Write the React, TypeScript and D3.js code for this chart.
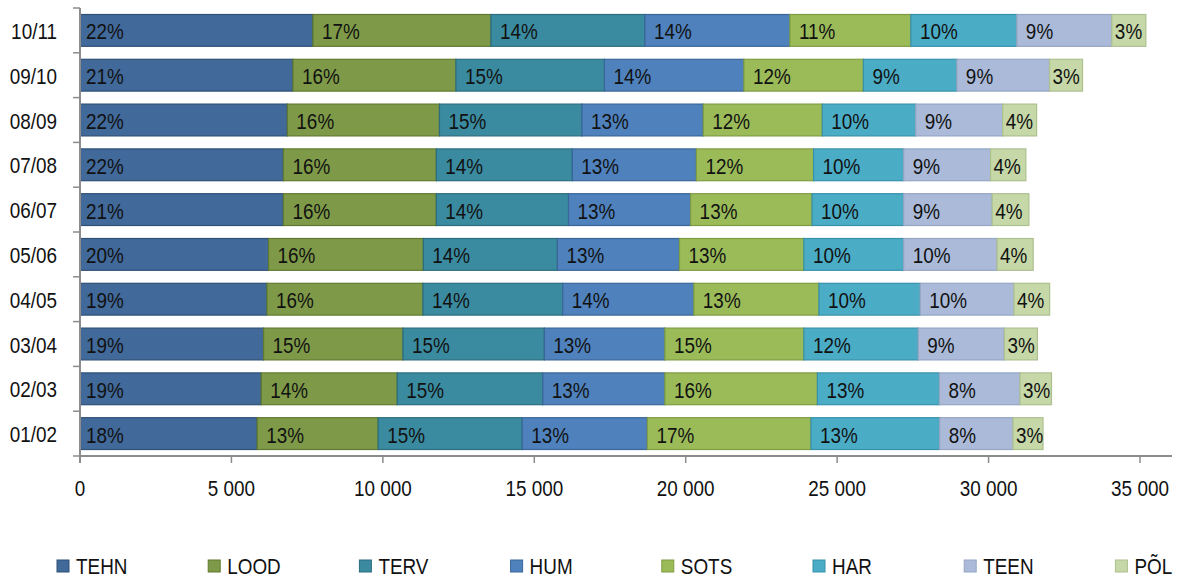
import React from "react";
import * as d3 from "d3";

const categories = ["10/11", "09/10", "08/09", "07/08", "06/07", "05/06", "04/05", "03/04", "02/03", "01/02"];
const seriesNames = ["TEHN", "LOOD", "TERV", "HUM", "SOTS", "HAR", "TEEN", "PÕL"];

const TEHN = [7692, 7032, 6847, 6718, 6718, 6226, 6174, 6061, 5985, 5850];
const LOOD = [5877, 5381, 5022, 5048, 5048, 5111, 5150, 4603, 4490, 3995];
const TERV = [5084, 4903, 4704, 4490, 4365, 4427, 4615, 4668, 4807, 4757];
const HUM = [4787, 4605, 4008, 4097, 4031, 4031, 4330, 3981, 4031, 4134];
const SOTS = [3995, 3946, 3930, 3869, 4011, 4107, 4130, 4589, 5035, 5401];
const HAR = [3499, 3086, 3083, 2975, 3024, 3295, 3341, 3774, 4030, 4250];
const TEEN = [3137, 3061, 2872, 2869, 2922, 3084, 3097, 2846, 2660, 2420];
const POL = [1122, 1089, 1120, 1165, 1212, 1192, 1179, 1090, 1040, 991];

const xTicks = [0, 5000, 10000, 15000, 20000, 25000, 30000, 35000];

const seriesValues = [TEHN, LOOD, TERV, HUM, SOTS, HAR, TEEN, POL];
const fills = ["#41699A", "#7E9A48", "#3B8BA0", "#4F81BD", "#9BBB59", "#4BACC6", "#AABAD8", "#C6D8A8"];
const strokes = ["#2F5077", "#60792F", "#2B6D7E", "#3A6698", "#7F9C40", "#3791AA", "#95A5C4", "#ADC08E"];

const FONT = "'Liberation Sans', Arial, sans-serif";
const FS = 22.5;
const SX = 0.84;

function T(props: { x: number; y: number; anchor?: string; children: React.ReactNode }) {
  return (
    <text
      transform={`translate(${props.x},${props.y}) scale(${SX},1)`}
      textAnchor={props.anchor || "start"}
      fontSize={FS}
      fontFamily={FONT}
      fill="#111"
    >
      {props.children}
    </text>
  );
}

export default function App() {
  const W = 1180, H = 581;
  const x0 = 80, x1 = 1140, yTop = 8, yBot = 456;

  const x = d3.scaleLinear().domain([0, 35000]).range([x0, x1]);
  const y = d3.scaleBand<string>().domain(categories).range([yTop, yBot]).paddingInner(0.29).paddingOuter(0.145);

  const rows = categories.map((c, i) => {
    const obj: any = { cat: c };
    seriesNames.forEach((s, k) => (obj[s] = seriesValues[k][i]));
    return obj;
  });
  const stack = d3.stack<any>().keys(seriesNames)(rows);
  const totals = rows.map((r) => d3.sum(seriesNames, (s) => r[s]));
  const fmt = (v: number) => d3.format(",")(v).replace(/,/g, " ");

  const legendX = (i: number) => 57 + i * 151.2;

  return (
    <svg width={W} height={H} style={{ position: "absolute", left: 0, top: 0, background: "#fff" }} fontFamily={FONT}>
      {/* bars */}
      {stack.map((layer, k) => (
        <g key={seriesNames[k]}>
          {layer.map((d, i) => {
            const xa = x(d[0]);
            const xb = x(d[1]);
            const yy = y(categories[i])!;
            return (
              <rect key={i} x={xa} y={yy} width={xb - xa} height={y.bandwidth()} fill={fills[k]} stroke={strokes[k]} strokeWidth={1.2} />
            );
          })}
        </g>
      ))}
      {/* labels */}
      {stack.map((layer, k) => (
        <g key={"l" + seriesNames[k]}>
          {layer.map((d, i) => {
            const xa = x(d[0]);
            const xb = x(d[1]);
            const w = xb - xa;
            const yy = y(categories[i])! + y.bandwidth() / 2;
            const pct = Math.round((seriesValues[k][i] / totals[i]) * 100);
            const off = w < 50 ? 3 : k === 0 ? 6 : 9;
            return (
              <T key={i} x={xa + off} y={yy + 9}>
                {pct}%
              </T>
            );
          })}
        </g>
      ))}
      {/* y axis */}
      <line x1={x0} x2={x0} y1={yTop} y2={yBot + 7} stroke="#8C8C8C" strokeWidth={2} />
      {d3.range(categories.length + 1).map((i) => {
        const yy = yTop + i * y.step();
        return <line key={i} x1={x0 - 7} x2={x0} y1={yy} y2={yy} stroke="#8C8C8C" strokeWidth={1.5} />;
      })}
      {categories.map((c) => (
        <T key={c} x={57} y={y(c)! + y.bandwidth() / 2 + 8.5} anchor="end">
          {c}
        </T>
      ))}
      {/* x axis */}
      <line x1={x0 - 1} x2={1172} y1={yBot} y2={yBot} stroke="#8C8C8C" strokeWidth={2} />
      {xTicks.map((t) => (
        <g key={t}>
          <line x1={x(t)} x2={x(t)} y1={yBot} y2={yBot + 7} stroke="#8C8C8C" strokeWidth={1.5} />
          <T x={x(t)} y={496} anchor="middle">
            {fmt(t)}
          </T>
        </g>
      ))}
      {/* legend */}
      {seriesNames.map((s, k) => (
        <g key={"lg" + s}>
          <rect x={legendX(k)} y={560} width={12} height={12} fill={fills[k]} stroke={strokes[k]} strokeWidth={1} />
          <T x={legendX(k) + 19} y={574}>
            {s}
          </T>
        </g>
      ))}
    </svg>
  );
}
